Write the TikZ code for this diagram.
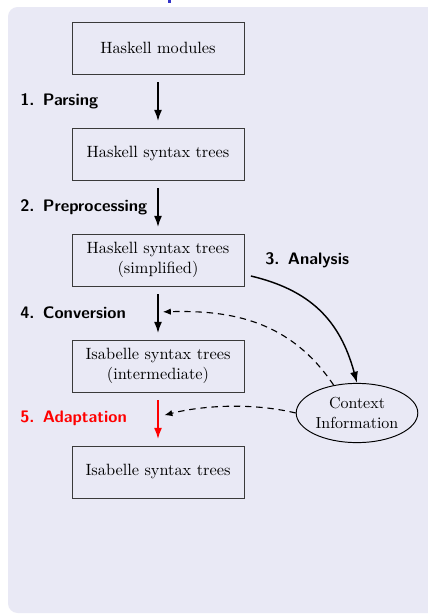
\documentclass[tikz,border=0pt]{standalone}
\usetikzlibrary{arrows.meta,shapes.geometric}
\definecolor{panel}{HTML}{E9E9F5}
\definecolor{structblue}{HTML}{3333C8}
\definecolor{boxline}{HTML}{3A3A3A}
\tikzset{
  stagebox/.style={draw=boxline, line width=0.6pt, minimum width=107.5pt, minimum height=32.5pt, align=center, font=\fontsize{10.2}{12.5}\selectfont},
  flow/.style={line width=1.1pt, -{Latex[length=7pt,width=5pt]}},
  feed/.style={line width=0.7pt, dash pattern=on 4pt off 3pt, -{Latex[length=5pt,width=4pt]}},
  steplabel/.style={font=\fontsize{10.4}{12}\selectfont\sffamily\bfseries, anchor=west, inner sep=0pt}
}
\begin{document}
\begin{tikzpicture}[x=0.625pt,y=-0.625pt]
  \useasboundingbox (0,0) rectangle (428,615);
  % block background
  \fill[panel, rounded corners=6pt] (8,7) rectangle (440,613);
  \fill[structblue] (168,0) rectangle (171,3);

  % pipeline stages
  \node[stagebox] (hm)  at (158,48)  {Haskell modules};
  \node[stagebox] (hst) at (158,154) {Haskell syntax trees};
  \node[stagebox] (hss) at (158,260) {Haskell syntax trees\\(simplified)};
  \node[stagebox] (ist) at (158,366) {Isabelle syntax trees\\(intermediate)};
  \node[stagebox] (isf) at (158,472) {Isabelle syntax trees};
  \node[draw, ellipse, line width=0.6pt, minimum width=76pt, minimum height=37pt, inner sep=1pt, align=center] (ctx) at (357,413) {Context\\Information};

  % main flow
  \draw[flow] ([yshift=-5pt]hm.south) -- ([yshift=4pt]hst.north) coordinate[pos=0.5] (a1);
  \draw[flow] ([yshift=-5pt]hst.south) -- ([yshift=4pt]hss.north) coordinate[pos=0.5] (a2);
  \draw[flow] ([yshift=-5pt]hss.south) -- ([yshift=4pt]ist.north) coordinate[pos=0.45] (a4);
  \draw[flow, red] ([yshift=-5pt]ist.south) -- ([yshift=4pt]isf.north) coordinate[pos=0.38] (a5);

  % analysis and feedback
  \draw[flow, line width=0.9pt] ([xshift=4pt,yshift=-10pt]hss.east) .. controls (310,290) and (340,320) .. (ctx.north);
  \draw[feed] (ctx.130) .. controls (290,320) and (230,310) .. ([xshift=3pt]a4);
  \draw[feed] (ctx.west) .. controls (250,402) and (200,406) .. ([xshift=4pt]a5);

  % stage labels
  \node[steplabel] (l1) at (20,101) {1.\enspace Parsing};
  \node[steplabel] (l2) at (20,207) {2.\enspace Preprocessing};
  \node[steplabel] (l3) at (265,260) {3.\enspace Analysis};
  \node[steplabel] (l4) at (20,313) {4.\enspace Conversion};
  \node[steplabel, text=red] (l5) at (20,418) {5.\enspace Adaptation};
\end{tikzpicture}
\end{document}
